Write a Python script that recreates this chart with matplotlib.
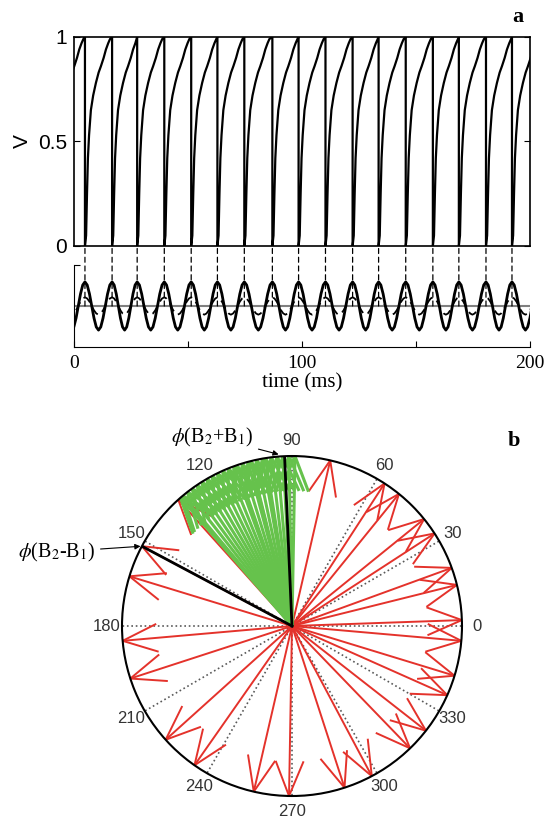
import numpy as np
import matplotlib
matplotlib.use('Agg')
import matplotlib.pyplot as plt
from matplotlib.patches import ConnectionPatch

plt.rcParams['mathtext.fontset'] = 'stix'

# ------------------------------------------------------------------ #
# values
# ------------------------------------------------------------------ #

# spike times (ms); first and last lie outside the 0-200 ms window
spike_times = [-6.9, 4.8, 16.7, 27.7, 39.6, 51.4, 62.9, 74.7, 87.0, 98.5, 110.3,
               122.2, 133.6, 145.5, 157.4, 168.8, 180.7, 192.1, 203.9]

# shape of V after a reset: time since spike (ms) and V
rise_dt = [0.0, 0.5, 0.9, 1.3, 1.8, 2.6, 3.6, 4.8, 6.0, 7.0, 8.2, 9.2, 10.2, 11.0]
rise_v = [0.0, 0.05, 0.25, 0.42, 0.53, 0.65, 0.72, 0.78, 0.83, 0.86, 0.90, 0.94, 0.97, 0.99]

# one cycle of the oscillations (peak to peak), fraction of the cycle and value
osc_phase = [0.0, 0.083, 0.167, 0.25, 0.333, 0.417, 0.5, 0.583, 0.667, 0.75, 0.833, 0.917, 1.0]
osc_solid = [1.0, 0.87, 0.5, 0.0, -0.5, -0.87, -1.0, -0.87, -0.5, 0.0, 0.5, 0.87, 1.0]
osc_dashed = [0.36, 0.31, 0.18, 0.0, -0.18, -0.31, -0.36, -0.31, -0.18, 0.0, 0.18, 0.31, 0.36]

# compass plot (degrees, length)
red_angles = [77, 57, 51, 39, 33, 20, 14, 2, 355, 343, 336, 322, 314, 298, 288,
              269, 257, 235, 222, 198, 185, 163, 152, 132, 104]
red_lengths = [1.0] * len(red_angles)
green_angles = [89, 91, 93, 95, 97, 99, 100, 102, 104, 105, 107, 109, 110, 112,
                114, 116, 118, 120, 122, 124, 126, 128, 130, 131]
green_lengths = [1.0] * len(green_angles)
phi_sum = 92.5
phi_diff = 152.0

compass_ticks = [0, 30, 60, 90, 120, 150, 180, 210, 240, 270, 300, 330]
v_ticks = [0, 0.5, 1]
v_ticklabels = ['0', '0.5', '1']
time_ticks = [0, 50, 100, 150, 200]
time_ticklabels = ['0', '', '100', '', '200']


# ------------------------------------------------------------------ #
# build the traces
# ------------------------------------------------------------------ #
vt, vv = [], []
for t0, t1 in zip(spike_times[:-1], spike_times[1:]):
    vt += [t0, t0]
    vv += [1.0, 0.0]
    for d, v in zip(rise_dt, rise_v):
        if t0 + d < t1:
            vt.append(t0 + d)
            vv.append(v)
vt.append(spike_times[-1])
vv.append(1.0)

ot, o_solid, o_dash = [], [], []
for t0, t1 in zip(spike_times[:-1], spike_times[1:]):
    for p, a, b in zip(osc_phase[:-1], osc_solid[:-1], osc_dashed[:-1]):
        ot.append(t0 + p * (t1 - t0))
        o_solid.append(a)
        o_dash.append(b)
ot.append(spike_times[-1])
o_solid.append(osc_solid[-1])
o_dash.append(osc_dashed[-1])


fig = plt.figure(figsize=(5.47, 8.23), dpi=100)

# ---------------------------- panel a, V ---------------------------- #
ax1 = fig.add_axes([0.1353, 0.7011, 0.8336, 0.2540])
ax1.plot(vt, vv, color='k', lw=1.6)
ax1.set_xlim(0, 200)
ax1.set_ylim(0, 1)
ax1.set_xticks([])
ax1.set_yticks(v_ticks)
ax1.set_yticklabels(v_ticklabels, family='Liberation Sans')
ax1.tick_params(axis='y', direction='in', right=True, length=4, labelsize=15, pad=5)
for s in ax1.spines.values():
    s.set_linewidth(1.2)
ax1.set_ylabel('V', family='Liberation Sans', fontsize=15, labelpad=4)

# --------------------------- oscillations --------------------------- #
ax2 = fig.add_axes([0.1353, 0.5784, 0.8336, 0.0996])
ax2.axhline(0, color='0.5', lw=1.5)
ax2.plot(ot, o_dash, color='k', lw=1.3, ls=(0, (5, 3)))
ax2.plot(ot, o_solid, color='k', lw=2.0)
ax2.set_xlim(0, 200)
ax2.set_ylim(-1.7, 1.7)
ax2.spines['top'].set_visible(False)
ax2.spines['right'].set_visible(False)
ax2.set_xticks(time_ticks)
ax2.set_xticklabels(time_ticklabels, family='Liberation Serif')
ax2.set_yticks([1.7])
ax2.set_yticklabels([''])
ax2.tick_params(direction='in', length=4, labelsize=14, pad=6)
ax2.set_xlabel('time (ms)', family='Liberation Serif', fontsize=15, labelpad=1)

for t in spike_times:
    if 0 < t < 200:
        con = ConnectionPatch(xyA=(t, 0), coordsA=ax2.transData,
                              xyB=(t, 0), coordsB=ax1.transData,
                              color='k', lw=0.9, ls=(0, (4, 3)))
        fig.add_artist(con)

# ---------------------------- panel b, compass ---------------------------- #
ax3 = fig.add_axes([0.2230, 0.0328, 0.6216, 0.4131], projection='polar')
head_d = np.arctan2(0.08, 0.8)
head_r = np.hypot(0.8, 0.08)


def compass_arrow(ax, ang, length, color, lw):
    th = np.deg2rad(ang)
    ax.plot([th, th], [0, length], color=color, lw=lw, solid_capstyle='butt')
    ax.plot([th + head_d, th, th - head_d],
            [head_r * length, length, head_r * length], color=color, lw=lw)


for a, l in zip(red_angles, red_lengths):
    compass_arrow(ax3, a, l, '#e4322b', 1.4)
for a, l in zip(green_angles, green_lengths):
    compass_arrow(ax3, a, l, '#66c24c', 2.2)
for a in [phi_sum, phi_diff]:
    ax3.plot([np.deg2rad(a)] * 2, [0, 1], color='k', lw=2.0)

ax3.set_ylim(0, 1)
ax3.set_yticks([])
ax3.set_xticks(np.deg2rad(compass_ticks))
ax3.set_xticklabels([str(c) for c in compass_ticks], family='Liberation Sans')
ax3.tick_params(axis='x', pad=0.5, labelsize=12, labelcolor='#333333')
ax3.xaxis.grid(True, ls=':', color='0.35', lw=1.2)
ax3.spines['polar'].set_linewidth(1.5)

ax3.annotate(r'$\phi$(B$_2$+B$_1$)', xy=(np.deg2rad(phi_sum + 1.5), 1.01),
             xytext=(0.4625, 0.469), textcoords='figure fraction',
             ha='right', va='center', fontsize=14.5, family='Liberation Serif',
             annotation_clip=False,
             arrowprops=dict(arrowstyle='-|>', color='k', lw=0.8,
                             mutation_scale=8, shrinkA=2, shrinkB=1))
ax3.annotate(r'$\phi$(B$_2$-B$_1$)', xy=(np.deg2rad(phi_diff), 1.0),
             xytext=(0.1737, 0.3293), textcoords='figure fraction',
             ha='right', va='center', fontsize=14.5, family='Liberation Serif',
             annotation_clip=False,
             arrowprops=dict(arrowstyle='-|>', color='k', lw=0.8,
                             mutation_scale=8, shrinkA=2, shrinkB=1))

fig.text(518 / 547, 1 - 17 / 823, 'a', fontweight='bold', family='Liberation Serif',
         fontsize=16, ha='center', va='center')
fig.text(514 / 547, 1 - 441 / 823, 'b', fontweight='bold', family='Liberation Serif',
         fontsize=16, ha='center', va='center')

fig.savefig('out.png', dpi=100)
